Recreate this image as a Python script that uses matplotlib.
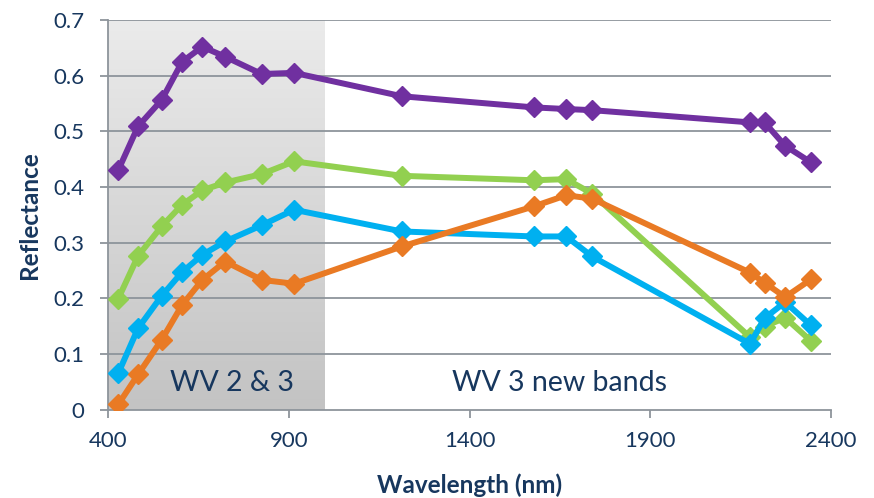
import numpy as np
import matplotlib
matplotlib.use("Agg")
import matplotlib.pyplot as plt
from matplotlib.colors import LinearSegmentedColormap

plt.rcParams['font.family'] = ['Lato', 'DejaVu Sans']

wavelengths = [427, 482, 547, 604, 660, 723, 824, 914, 1212, 1577, 1667, 1739, 2176, 2216, 2273, 2345]
purple = [0.430, 0.509, 0.556, 0.625, 0.652, 0.634, 0.603, 0.605, 0.563, 0.543, 0.540, 0.538, 0.516, 0.516, 0.474, 0.444]
green = [0.199, 0.276, 0.329, 0.368, 0.394, 0.408, 0.423, 0.446, 0.420, 0.412, 0.414, 0.388, 0.130, 0.149, 0.165, 0.123]
blue = [0.065, 0.146, 0.204, 0.247, 0.278, 0.302, 0.331, 0.359, 0.320, 0.311, 0.311, 0.275, 0.118, 0.164, 0.193, 0.151]
orange = [0.009, 0.063, 0.125, 0.188, 0.233, 0.266, 0.233, 0.226, 0.293, 0.365, 0.385, 0.379, 0.246, 0.228, 0.202, 0.234]

series = [(purple, '#7030A0'), (green, '#92D050'), (blue, '#00B0F0'), (orange, '#E97A24')]

text_color = '#17375E'
grid_color = '#8D949B'

fig = plt.figure(figsize=(8.74, 4.98), dpi=100)
ax = fig.add_axes([0.1241, 0.1777, 0.8267, 0.7821])

# gradient shaded region (light at top, darker at bottom)
grad = np.linspace(0, 1, 256).reshape(-1, 1)
cmap = LinearSegmentedColormap.from_list('g', ['#EBEBEB', '#C3C3C3'])
ax.imshow(grad, extent=[400, 1000, 0, 0.7], origin='upper', aspect='auto', cmap=cmap, zorder=0)

ax.set_xlim(400, 2400)
ax.set_ylim(0, 0.7)

for y in np.arange(0.1, 0.71, 0.1):
    ax.axhline(y, color=grid_color, lw=1.3, zorder=1)

for vals, c in series:
    ax.plot(wavelengths, vals, color=c, lw=4.3, marker='D', markersize=10.5, zorder=3)

ax.set_xticks([400, 900, 1400, 1900, 2400])
ax.set_yticks(np.round(np.arange(0, 0.71, 0.1), 1))
ax.set_yticklabels(['0', '0.1', '0.2', '0.3', '0.4', '0.5', '0.6', '0.7'])

for s in ['top', 'right']:
    ax.spines[s].set_visible(False)
for s in ['left', 'bottom']:
    ax.spines[s].set_color(grid_color)
    ax.spines[s].set_linewidth(1.3)

ax.tick_params(axis='both', colors=grid_color, labelcolor=text_color, labelsize=16,
               direction='out', length=5.5, width=1.3)
ax.tick_params(axis='x', pad=10)
ax.tick_params(axis='y', pad=12)

ax.set_xlabel('Wavelength (nm)', fontsize=17.5, fontweight='bold', color=text_color, labelpad=16)
ax.set_ylabel('Reflectance', fontsize=17.5, fontweight='bold', color=text_color, labelpad=9)

ax.text(743, 0.047, 'WV 2 & 3', fontsize=20.5, color=text_color, ha='center', va='center', zorder=4)
ax.text(1648, 0.047, 'WV 3 new bands', fontsize=20.5, color=text_color, ha='center', va='center', zorder=4)

fig.savefig('out.png', dpi=100)
